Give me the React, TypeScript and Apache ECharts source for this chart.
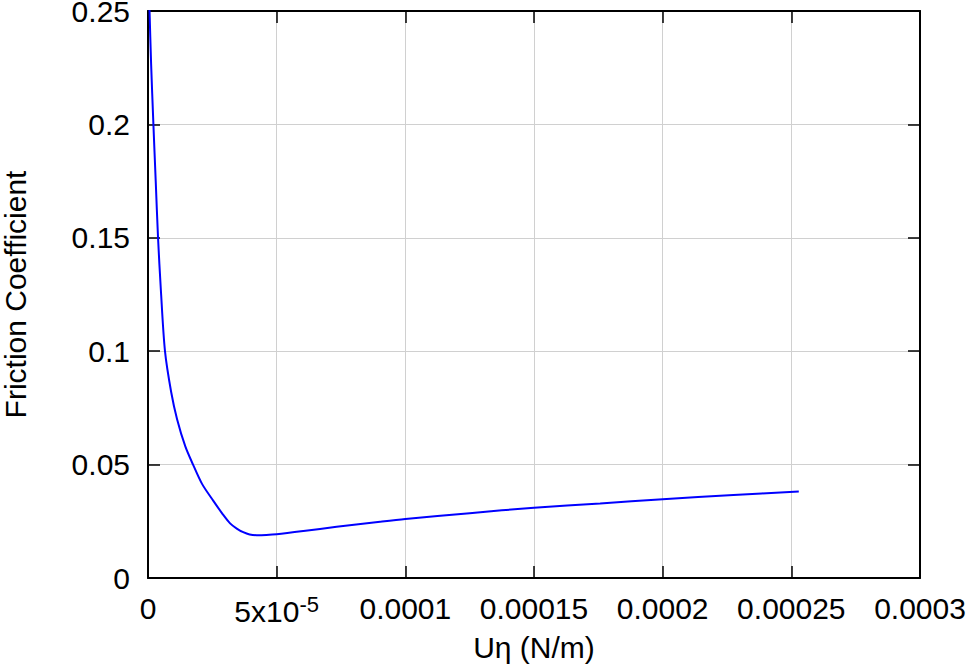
import React, { useEffect, useRef } from "react";
import * as echarts from "echarts";

const xValues = [
  0.0000003, 0.0000006, 0.0000012, 0.0000021, 0.000003, 0.0000039, 0.000005, 0.0000066, 0.000009, 0.0000113,
  0.0000145, 0.0000175, 0.000021, 0.0000254, 0.000029, 0.0000319, 0.0000345, 0.000037, 0.0000395, 0.0000422,
  0.000046, 0.00005, 0.0000604, 0.0000733, 0.0000902, 0.0001, 0.000125, 0.00015, 0.0001757, 0.0002,
  0.0002275, 0.0002529,
];
const yValues = [
  0.262, 0.25, 0.227, 0.2, 0.175, 0.15, 0.127, 0.1, 0.082, 0.07,
  0.058, 0.05, 0.0415, 0.034, 0.0282, 0.0241, 0.0218, 0.0202, 0.0192, 0.0189,
  0.019, 0.0193, 0.0207, 0.0226, 0.0248, 0.026, 0.0286, 0.031, 0.0329, 0.0347,
  0.0366, 0.0381,
];

const xTickLabels = ["0", "{b|5x10}{s|-5}", "0.0001", "0.00015", "0.0002", "0.00025", "0.0003"];
const yTickLabels = ["0", "0.05", "0.1", "0.15", "0.2", "0.25"];

const FONT = "Liberation Sans, Arial, Helvetica, sans-serif";
const FS = 30;

export default function App() {
  const ref = useRef<HTMLDivElement>(null);
  useEffect(() => {
    if (!ref.current) return;
    const chart = echarts.init(ref.current, null, { renderer: "svg" });
    const data = xValues.map((x, i) => [x, yValues[i]]);
    const axisLine = { show: true, onZero: false, lineStyle: { color: "#000", width: 2 } };
    const tick = { show: true, inside: true, length: 12, lineStyle: { color: "#000", width: 1.5 } };
    chart.setOption({
      animation: false,
      backgroundColor: "#fff",
      grid: { left: 148, right: 49, top: 11, bottom: 92, containLabel: false, outerBoundsMode: "none" },
      xAxis: [
        {
          type: "value",
          min: 0,
          max: 0.0003,
          interval: 0.00005,
          position: "bottom",
          name: "Uη (N/m)",
          nameLocation: "middle",
          nameGap: 54,
          nameTextStyle: { fontFamily: FONT, fontSize: FS, color: "#000" },
          axisLine,
          axisTick: tick,
          splitLine: { show: true, lineStyle: { color: "#d0d0d0", width: 1 } },
          axisLabel: {
            margin: 15,
            fontFamily: FONT,
            fontSize: FS,
            color: "#000",
            formatter: (v: number) => xTickLabels[Math.round(v / 0.00005)] ?? "",
            rich: {
              b: { fontFamily: FONT, fontSize: FS, color: "#000", lineHeight: 30, padding: [6, 0, 0, 0] },
              s: { fontFamily: FONT, fontSize: 22, color: "#000", lineHeight: 10, verticalAlign: "top" },
            },
          },
        },
        {
          type: "value",
          min: 0,
          max: 0.0003,
          interval: 0.00005,
          position: "top",
          axisLine,
          axisTick: tick,
          axisLabel: { show: false },
          splitLine: { show: false },
        },
      ],
      yAxis: [
        {
          type: "value",
          min: 0,
          max: 0.25,
          interval: 0.05,
          position: "left",
          name: "Friction Coefficient",
          nameLocation: "middle",
          nameGap: 118,
          nameTextStyle: { fontFamily: FONT, fontSize: FS, color: "#000" },
          axisLine,
          axisTick: tick,
          splitLine: { show: true, lineStyle: { color: "#d0d0d0", width: 1 } },
          axisLabel: {
            margin: 18,
            fontFamily: FONT,
            fontSize: FS,
            color: "#000",
            formatter: (v: number) => yTickLabels[Math.round(v / 0.05)] ?? "",
          },
        },
        {
          type: "value",
          min: 0,
          max: 0.25,
          interval: 0.05,
          position: "right",
          axisLine,
          axisTick: tick,
          axisLabel: { show: false },
          splitLine: { show: false },
        },
      ],
      series: [
        {
          type: "line",
          data,
          xAxisIndex: 0,
          yAxisIndex: 0,
          showSymbol: false,
          smooth: 0.3,
          clip: true,
          lineStyle: { color: "#0000ff", width: 2 },
          z: 3,
        },
      ],
    });
    return () => chart.dispose();
  }, []);
  return <div ref={ref} style={{ width: 969, height: 670, position: "absolute", left: 0, top: 0 }} />;
}
